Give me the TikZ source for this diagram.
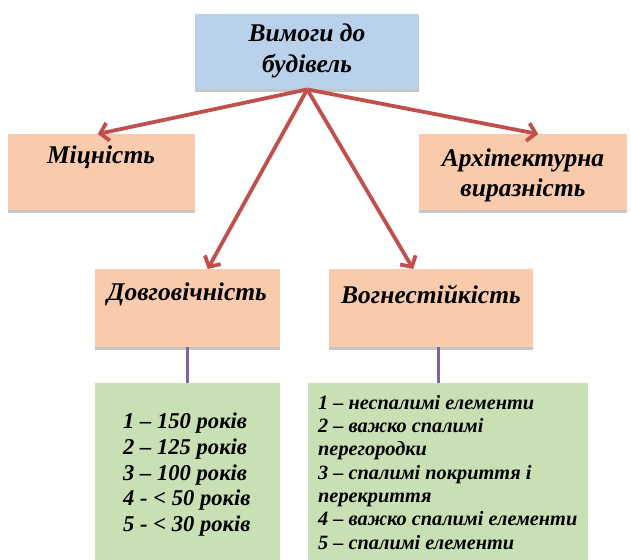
\documentclass[tikz,border=0pt]{standalone}
\usepackage{fontspec}
\setmainfont{Liberation Serif}
\usetikzlibrary{arrows.meta,shadows}
\definecolor{topblue}{HTML}{B9D1EA}
\definecolor{peach}{HTML}{F8CBAD}
\definecolor{lgreen}{HTML}{C8E0B4}
\definecolor{redarrow}{HTML}{C0504D}
\definecolor{purpleline}{HTML}{8064A2}
\begin{document}
\begin{tikzpicture}[x=1pt,y=-1pt,
  boxbase/.style={draw=none, rectangle, inner sep=0pt, anchor=north west,
    drop shadow={shadow xshift=0pt, shadow yshift=-2.5pt, opacity=0.45, fill=gray}},
  bluebox/.style={boxbase, fill=topblue},
  peachbox/.style={boxbase, fill=peach},
  greenbox/.style={boxbase, fill=lgreen},
  lbl/.style={font=\bfseries\itshape, align=center, inner sep=0pt},
  redarr/.style={draw=redarrow, line width=3.8pt, -{Straight Barb[length=8pt,width=18pt,line width=3.8pt]}},
  purp/.style={draw=purpleline, line width=3pt}
]
\useasboundingbox (0,0) rectangle (631,559);
% boxes
\node[bluebox, minimum width=224pt, minimum height=75pt] (top) at (195,14) {};
\node[peachbox, minimum width=187pt, minimum height=76pt] (mic) at (8,134) {};
\node[peachbox, minimum width=208pt, minimum height=76pt] (arch) at (419,134) {};
\node[peachbox, minimum width=185pt, minimum height=78pt] (dov) at (95,269) {};
\node[peachbox, minimum width=204pt, minimum height=78pt] (vog) at (329,269) {};
\node[greenbox, minimum width=185pt, minimum height=180pt] (gl) at (95,383) {};
\node[greenbox, minimum width=280pt, minimum height=180pt] (gr) at (308,383) {};
% labels
\node[lbl, font=\fontsize{25.5}{31}\selectfont\bfseries\itshape] (ttop) at (307,51) {Вимоги до\\будівель};
\node[lbl, font=\fontsize{25.5}{30}\selectfont\bfseries\itshape] (tmic) at (101,157) {Міцність};
\node[lbl, font=\fontsize{25.5}{30}\selectfont\bfseries\itshape] (tarch) at (523,175) {Архітектурна\\виразність};
\node[lbl, font=\fontsize{25.5}{30}\selectfont\bfseries\itshape] (tdov) at (187,294) {Довговічність};
\node[lbl, font=\fontsize{25.5}{30}\selectfont\bfseries\itshape] (tvog) at (431,294) {Вогнестійкість};
\node[lbl, align=left, anchor=north west, font=\fontsize{22.6}{25.7}\selectfont\bfseries\itshape] (tgl) at (123,413)
  {1 – 150 років\\2 – 125 років\\3 – 100 років\\4 - < 50 років\\5 - < 30 років};
\node[lbl, align=left, anchor=north west, font=\fontsize{20.3}{23.3}\selectfont\bfseries\itshape] (tgr) at (318,395)
  {1 – неспалимі елементи\\2 – важко спалимі\\перегородки\\3 – спалимі покриття і\\перекриття\\4 – важко спалимі елементи\\5 – спалимі елементи};
% connectors
\draw[redarr] (top.south) -- ([xshift=-4pt]mic.north);
\draw[redarr] (top.south) -- ([xshift=15pt]arch.north);
\draw[redarr] (top.south) -- ([xshift=20pt]dov.north);
\draw[redarr] (top.south) -- ([xshift=-18pt]vog.north);
\coordinate (vp) at ([xshift=7pt]vog.south);
\draw[purp] (dov.south) -- (dov.south |- gl.north);
\draw[purp] (vp) -- (vp |- gr.north);
\end{tikzpicture}
\end{document}
